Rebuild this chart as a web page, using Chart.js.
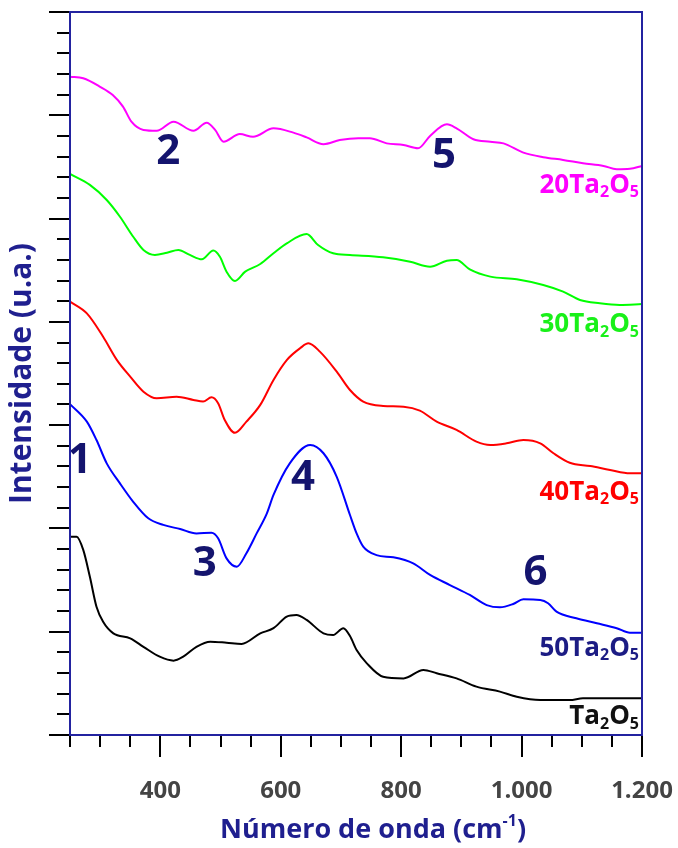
<!DOCTYPE html>
<html>
<head>
<meta charset="utf-8">
<script src="https://cdn.jsdelivr.net/npm/chart.js@4/dist/chart.umd.min.js"></script>
<style>
  html, body { margin: 0; padding: 0; background: #ffffff; }
  #wrap { width: 678px; height: 848px; position: relative; }
</style>
</head>
<body>
<div id="wrap"><canvas id="c"></canvas></div>
<script>
// Raman spectra (arbitrary intensity units, curves offset vertically)
const ta20X = [250,272,300,321,338,352,372,394,422,455,477,491,505,532,554,588,621,643,671,698,729,748,776,804,828,848,876,892,920,948,970,1003,1036,1069,1102,1136,1158,1180,1200];
const ta20Y = [31.87,31.79,31.38,30.98,30.42,29.69,29.29,29.25,29.69,29.25,29.64,29.29,28.72,29.09,28.96,29.37,29.16,28.93,28.60,28.80,28.89,28.89,28.64,28.56,28.40,29.00,29.56,29.37,28.84,28.72,28.64,28.19,27.97,27.84,27.68,27.55,27.39,27.41,27.55];

const ta30X = [250,283,311,333,355,372,391,411,430,449,469,488,499,510,524,541,566,588,610,643,662,687,715,770,815,848,876,892,914,948,992,1036,1069,1097,1130,1163,1200];
const ta30Y = [27.16,26.63,25.90,25.09,24.12,23.48,23.24,23.35,23.48,23.24,23.03,23.45,23.15,22.43,21.98,22.43,22.80,23.32,23.80,24.25,23.72,23.32,23.24,23.13,22.91,22.67,22.96,22.99,22.54,22.19,22.06,21.78,21.46,21.06,20.90,20.82,20.86];

const ta40X = [250,278,305,328,350,372,394,427,455,471,485,496,507,524,543,566,588,610,632,646,665,693,715,737,770,804,831,859,892,925,948,975,1003,1031,1053,1080,1114,1147,1180,1200];
const ta40Y = [20.98,20.41,19.28,18.15,17.35,16.62,16.30,16.38,16.22,16.14,16.35,16.06,15.25,14.63,15.17,15.98,17.19,18.15,18.72,18.96,18.56,17.59,16.70,16.14,15.93,15.89,15.70,15.17,14.77,14.20,14.04,14.12,14.28,14.12,13.64,13.18,13.02,12.83,12.67,12.67];

const ta50X = [250,278,294,311,333,355,380,405,433,460,485,496,510,527,543,560,577,588,615,649,671,693,715,726,737,759,787,820,848,881,914,942,964,986,1003,1031,1044,1058,1091,1125,1158,1180,1200];
const ta50Y = [16.02,15.17,14.28,13.15,12.18,11.29,10.49,10.17,9.97,9.76,9.79,9.52,8.55,8.15,8.80,9.76,10.73,11.62,13.15,14.04,13.64,12.50,10.65,9.76,9.12,8.71,8.60,8.31,7.75,7.26,6.78,6.29,6.18,6.34,6.57,6.54,6.38,5.97,5.65,5.41,5.17,4.95,4.95];

const ta0X = [250,261,272,283,294,305,322,350,372,399,422,438,460,483,510,535,566,588,610,626,643,671,687,704,715,726,743,770,804,837,859,892,925,964,992,1031,1080,1102,1158,1200];
const ta0Y = [9.60,9.60,8.96,7.66,6.21,5.48,4.92,4.68,4.27,3.79,3.60,3.79,4.27,4.52,4.47,4.41,4.92,5.17,5.73,5.81,5.57,4.92,4.84,5.17,4.79,4.11,3.47,2.82,2.74,3.15,2.99,2.74,2.34,2.10,1.85,1.69,1.69,1.78,1.78,1.78];

// Sample names: prefix before the subscripted formula
const sampleNames = ['20', '30', '40', '50', ''];
const xTickLabels = { 400: '400', 600: '600', 800: '800', 1000: '1.000', 1200: '1.200' };
const peakNumbers = ['1', '2', '3', '4', '5', '6'];

// Placement of the text drawn over the plot (in data units)
const peakPos = [[266, 13.26], [413, 28.2], [474, 8.28], [637, 12.44], [871, 28.03], [1023, 7.84]];
const nameY = [26.58, 19.85, 11.72, 4.19, 0.87];
const nameColors = ['#ff00ff', '#19f019', '#ff0000', '#1c1c84', '#111111'];
const lineColors = ['#ff00ff', '#00ff00', '#ff0000', '#0000ff', '#000000'];

const toPoints = (xs, ys) => xs.map((v, i) => ({ x: v, y: ys[i] }));
const series = [[ta20X, ta20Y], [ta30X, ta30Y], [ta40X, ta40Y], [ta50X, ta50Y], [ta0X, ta0Y]];

const FONT = '"Open Sans", "Noto Sans", sans-serif';
const NAVY = '#1f1f8f';

// draws a run of [text, font, dy] pieces starting at x
function drawRuns(ctx, runs, x, y) {
  runs.forEach(r => {
    ctx.font = r[1];
    ctx.fillText(r[0], x, y + r[2]);
    x += ctx.measureText(r[0]).width;
  });
}
function runsWidth(ctx, runs) {
  let w = 0;
  runs.forEach(r => { ctx.font = r[1]; w += ctx.measureText(r[0]).width; });
  return w;
}

const frameAndTicks = {
  id: 'frameAndTicks',
  afterDraw(chart) {
    const { ctx, chartArea: a, scales: { x, y } } = chart;
    ctx.save();
    ctx.strokeStyle = '#000';
    ctx.lineWidth = 2;
    ctx.beginPath();
    x.ticks.forEach(t => {
      const px = Math.round(x.getPixelForValue(t.value));
      const len = t.value % 200 === 0 ? 22 : 12;
      ctx.moveTo(px, a.bottom);
      ctx.lineTo(px, a.bottom + len);
    });
    y.ticks.forEach(t => {
      const py = Math.round(y.getPixelForValue(t.value));
      const len = t.value % 5 === 0 ? 21 : 13;
      ctx.moveTo(a.left, py);
      ctx.lineTo(a.left - len, py);
    });
    ctx.stroke();
    ctx.strokeStyle = '#2323a0';
    ctx.lineWidth = 2;
    ctx.strokeRect(a.left, a.top, a.right - a.left, a.bottom - a.top);

    // x axis title with superscript
    const tBig = 'bold 27px ' + FONT, tSmall = 'bold 16px ' + FONT;
    const title = [['Número de onda (cm', tBig, 0], ['-1', tSmall, -9], [')', tBig, 0]];
    ctx.fillStyle = NAVY;
    ctx.textAlign = 'left';
    ctx.textBaseline = 'middle';
    const tw = runsWidth(ctx, title);
    drawRuns(ctx, title, (a.left + a.right) / 2 + 17 - tw / 2, 830);
    ctx.restore();
  }
};

const plotText = {
  id: 'plotText',
  afterDatasetsDraw(chart) {
    const { ctx, scales: { x, y } } = chart;
    ctx.save();
    // peak numbers
    ctx.fillStyle = '#14146e';
    ctx.font = 'bold 42px ' + FONT;
    ctx.textAlign = 'center';
    ctx.textBaseline = 'middle';
    peakNumbers.forEach((n, i) => {
      ctx.fillText(n, x.getPixelForValue(peakPos[i][0]), y.getPixelForValue(peakPos[i][1]));
    });
    // sample names, right aligned, with subscripts
    const big = 'bold 26px ' + FONT, small = 'bold 16px ' + FONT;
    ctx.textAlign = 'left';
    ctx.textBaseline = 'middle';
    sampleNames.forEach((pre, i) => {
      const runs = [[pre + 'Ta', big, 0], ['2', small, 7], ['O', big, 0], ['5', small, 7]];
      const w = runsWidth(ctx, runs);
      ctx.fillStyle = nameColors[i];
      drawRuns(ctx, runs, x.getPixelForValue(1195) - w, y.getPixelForValue(nameY[i]));
    });
    ctx.restore();
  }
};

new Chart(document.getElementById('c'), {
  type: 'line',
  data: {
    datasets: series.map((s, i) => ({
      data: toPoints(s[0], s[1]),
      borderColor: lineColors[i],
      borderWidth: 2,
      pointRadius: 0,
      fill: false,
      cubicInterpolationMode: 'monotone'
    }))
  },
  options: {
    responsive: true,
    maintainAspectRatio: false,
    animation: false,
    events: [],
    layout: { padding: { left: 0, right: 36, top: 12, bottom: 0 } },
    plugins: { legend: { display: false }, tooltip: { enabled: false } },
    scales: {
      x: {
        type: 'linear',
        min: 250,
        max: 1200,
        afterFit: s => { s.height = 113; s.paddingLeft = 0; s.paddingRight = 0; },
        grid: { display: true, drawOnChartArea: false, drawTicks: false, color: 'rgba(0,0,0,0)' },
        border: { display: false },
        ticks: {
          stepSize: 50,
          autoSkip: false,
          maxRotation: 0,
          padding: 42,
          color: '#444444',
          font: { family: FONT, size: 24, weight: 'bold' },
          callback: v => xTickLabels[v] || ''
        },
        title: { display: false }
      },
      y: {
        type: 'linear',
        min: 0,
        max: 35,
        afterFit: s => { s.width = 70; },
        grid: { display: true, drawOnChartArea: false, drawTicks: false, color: 'rgba(0,0,0,0)' },
        border: { display: false },
        ticks: { display: false, stepSize: 1, maxTicksLimit: 100 },
        title: {
          display: true,
          text: 'Intensidade (u.a.)',
          color: NAVY,
          font: { family: FONT, size: 30, weight: 'bold' },
          padding: { top: 4, bottom: 0 }
        }
      }
    }
  },
  plugins: [frameAndTicks, plotText]
});
</script>
</body>
</html>
